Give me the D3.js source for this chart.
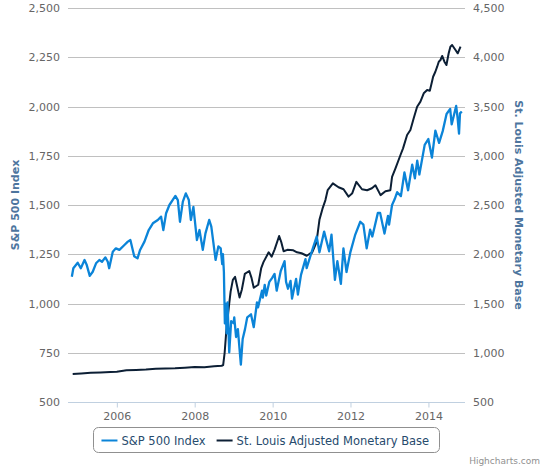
<!DOCTYPE html>
<html>
<head>
<meta charset="utf-8">
<script src="https://cdn.jsdelivr.net/npm/d3@7"></script>
<style>
  body { margin: 0; background: #fff; }
  svg { display: block; font-family: "DejaVu Sans", Verdana, sans-serif; }
</style>
</head>
<body>
<svg id="chart" width="547" height="471"></svg>
<script>
// S&P 500 index (left axis)
const spxDates = [
  "2004-11-05","2004-11-19","2004-12-30","2005-01-28","2005-03-04","2005-03-25","2005-04-22",
  "2005-05-20","2005-06-20","2005-07-21","2005-08-15","2005-09-15","2005-10-08","2005-10-21",
  "2005-11-24","2005-12-23","2006-01-25","2006-03-13","2006-04-14","2006-05-08","2006-06-13",
  "2006-07-14","2006-08-07","2006-09-17","2006-10-27","2006-12-05","2007-01-20","2007-02-20",
  "2007-03-13","2007-04-08","2007-05-09","2007-06-08","2007-07-04","2007-07-27","2007-08-16",
  "2007-09-12","2007-10-10","2007-11-07","2007-11-26","2007-12-20","2008-01-22","2008-02-15",
  "2008-03-17","2008-04-11","2008-05-16","2008-06-05","2008-06-25","2008-07-15","2008-08-10",
  "2008-09-01","2008-09-15","2008-09-22","2008-10-01","2008-10-10","2008-10-14","2008-10-27",
  "2008-11-04","2008-11-20","2008-12-08","2008-12-31","2009-01-06","2009-01-23","2009-02-09",
  "2009-03-09","2009-03-26","2009-04-17","2009-05-08","2009-06-12","2009-07-08","2009-08-07",
  "2009-08-17","2009-09-23","2009-10-01","2009-10-19","2009-11-02","2009-12-01","2009-12-28",
  "2010-01-19","2010-02-08","2010-03-18","2010-04-23","2010-05-07","2010-05-25","2010-06-18",
  "2010-07-02","2010-08-09","2010-08-26","2010-09-24","2010-11-05","2010-11-16","2010-12-31",
  "2011-02-18","2011-03-16","2011-04-29","2011-06-15","2011-07-07","2011-08-08","2011-08-31",
  "2011-10-03","2011-10-27","2011-11-25","2011-12-30","2012-02-15","2012-04-02","2012-05-01",
  "2012-06-01","2012-07-03","2012-07-24","2012-09-14","2012-10-05","2012-11-15","2012-12-18",
  "2012-12-28","2013-01-25","2013-02-19","2013-03-14","2013-04-18","2013-05-21","2013-06-24",
  "2013-08-02","2013-08-27","2013-09-18","2013-10-08","2013-11-27","2013-12-31","2014-02-03",
  "2014-03-07","2014-04-11","2014-05-15","2014-06-20","2014-07-24","2014-08-07","2014-09-18",
  "2014-10-01","2014-10-15","2014-10-24","2014-11-10"
];
const spxValues = [
  1136,1179,1207,1179,1221,1195,1140,
  1161,1204,1221,1212,1234,1212,1179,
  1263,1280,1272,1297,1314,1322,1240,
  1229,1272,1314,1373,1407,1424,1441,
  1373,1458,1500,1525,1546,1525,1415,
  1517,1559,1525,1424,1490,1322,1373,
  1272,1356,1424,1390,1306,1221,1290,
  1280,1200,1250,1160,899,1000,848,
  1005,752,910,900,930,830,870,
  690,820,870,930,945,880,1005,
  980,1065,1030,1095,1040,1110,1130,
  1150,1065,1165,1215,1110,1075,1115,
  1025,1125,1045,1145,1225,1180,1258,
  1340,1260,1365,1265,1350,1120,1215,
  1100,1280,1160,1258,1350,1415,1400,
  1280,1375,1340,1460,1460,1355,1445,
  1400,1500,1530,1565,1545,1665,1575,
  1705,1635,1725,1655,1805,1835,1741,
  1878,1815,1875,1962,1988,1909,2003,
  1945,1862,1965,1975
];

// St. Louis Adjusted Monetary Base (right axis)
const ambDates = [
  "2004-11-13","2005-02-01","2005-05-01","2005-08-01","2005-11-01","2006-01-01","2006-04-01",
  "2006-07-01","2006-10-01","2007-01-01","2007-04-01","2007-07-01","2007-10-01","2008-01-01",
  "2008-04-01","2008-07-01","2008-09-10","2008-09-24","2008-10-08","2008-10-22","2008-11-05",
  "2008-11-19","2008-12-03","2008-12-24","2009-01-14","2009-01-28","2009-02-25","2009-03-18",
  "2009-04-15","2009-05-27","2009-06-17","2009-07-08","2009-08-19","2009-09-16","2009-10-07",
  "2009-11-25","2009-12-23","2010-01-20","2010-03-03","2010-03-24","2010-04-14","2010-05-19",
  "2010-07-14","2010-08-18","2010-09-29","2010-11-17","2010-12-15","2011-01-05","2011-02-16",
  "2011-03-16","2011-04-13","2011-05-11","2011-06-01","2011-07-20","2011-09-11","2011-10-28",
  "2011-12-14","2012-01-18","2012-02-25","2012-04-18","2012-06-05","2012-07-20","2012-08-22",
  "2012-10-09","2012-11-24","2013-01-09","2013-01-25","2013-02-25","2013-04-13","2013-05-08",
  "2013-06-15","2013-07-16","2013-08-16","2013-09-17","2013-10-18","2013-11-18","2013-12-20",
  "2014-01-14","2014-01-27","2014-02-14","2014-03-07","2014-03-24","2014-04-08","2014-04-24",
  "2014-05-10","2014-05-31","2014-06-19","2014-07-10","2014-07-26","2014-08-11","2014-09-12",
  "2014-10-03","2014-10-29"
];
const ambValues = [
  784,790,797,800,805,808,822,
  826,830,838,840,842,848,855,
  854,862,868,875,1000,1200,1350,
  1490,1620,1740,1770,1700,1560,1640,
  1800,1830,1760,1660,1690,1860,1920,
  2020,1975,2050,2185,2120,2030,2045,
  2040,2020,2010,1985,2005,2015,2120,
  2350,2460,2550,2650,2720,2680,2660,
  2585,2620,2735,2660,2650,2670,2700,
  2600,2640,2650,2785,2870,3005,3075,
  3211,3261,3380,3498,3549,3634,3667,
  3660,3718,3802,3853,3904,3955,3972,
  4013,3955,3921,4040,4107,4124,4073,
  4040,4107
];

const leftTicks = [500, 750, 1000, 1250, 1500, 1750, 2000, 2250, 2500];
const rightTicks = [500, 1000, 1500, 2000, 2500, 3000, 3500, 4000, 4500];
const yearTicks = [2006, 2008, 2010, 2012, 2014];
const seriesNames = ["S&P 500 Index", "St. Louis Adjusted Monetary Base"];
const seriesColors = ["#0b84d8", "#0c1f35"];

const parse = d3.timeParse("%Y-%m-%d");
const spx = spxDates.map((d, i) => ({ date: parse(d), value: spxValues[i] }));
const amb = ambDates.map((d, i) => ({ date: parse(d), value: ambValues[i] }));

const svg = d3.select("#chart");
const plot = { left: 68, right: 465, top: 8, bottom: 402 };

const x = d3.scaleTime()
  .domain([parse("2004-09-30"), parse("2014-12-10")])
  .range([plot.left, plot.right]);
const yLeft = d3.scaleLinear().domain([500, 2500]).range([plot.bottom, plot.top]);
const yRight = d3.scaleLinear().domain([500, 4500]).range([plot.bottom, plot.top]);

const fmt = d3.format(",");

// grid lines (left axis)
svg.append("g")
  .attr("class", "grid")
  .selectAll("line")
  .data(leftTicks.slice(1))
  .enter()
  .append("line")
    .attr("x1", plot.left)
    .attr("x2", plot.right)
    .attr("y1", d => Math.round(yLeft(d)) + 0.5)
    .attr("y2", d => Math.round(yLeft(d)) + 0.5)
    .attr("stroke", "#c0c0c0")
    .attr("stroke-width", 1);

// left axis labels
let gLeft = svg.append("g")
  .attr("transform", `translate(${plot.left - 8},0)`)
  .call(d3.axisLeft(yLeft).tickValues(leftTicks).tickFormat(fmt).tickSize(0).tickPadding(0));
gLeft.select(".domain").remove();
gLeft.selectAll("text")
  .attr("fill", "#666")
  .style("font-size", "11px")
  .style("font-family", "DejaVu Sans, sans-serif");

// right axis labels
let gRight = svg.append("g")
  .attr("transform", `translate(${plot.right + 8},0)`)
  .call(d3.axisRight(yRight).tickValues(rightTicks).tickFormat(fmt).tickSize(0).tickPadding(0));
gRight.select(".domain").remove();
gRight.selectAll("text")
  .attr("fill", "#666")
  .style("font-size", "11px")
  .style("font-family", "DejaVu Sans, sans-serif");

// x axis
let gX = svg.append("g")
  .attr("transform", `translate(0,${plot.bottom + 0.5})`)
  .call(d3.axisBottom(x)
    .tickValues(yearTicks.map(y => new Date(y, 0, 1)))
    .tickFormat(d3.timeFormat("%Y"))
    .tickSize(5)
    .tickPadding(5));
gX.select(".domain")
  .attr("d", `M${plot.left},0H${plot.right}`)
  .attr("stroke", "#c0d0e0");
gX.selectAll(".tick line").attr("stroke", "#c0d0e0");
gX.selectAll("text")
  .attr("fill", "#666")
  .style("font-size", "11px")
  .style("font-family", "DejaVu Sans, sans-serif");

// axis titles
svg.append("text")
  .attr("transform", `translate(18.5,${(plot.top + plot.bottom) / 2}) rotate(-90)`)
  .attr("text-anchor", "middle")
  .attr("fill", "#4d759e")
  .style("font-size", "11px")
  .style("font-weight", "bold")
  .text(seriesNames[0]);

svg.append("text")
  .attr("transform", `translate(515,${(plot.top + plot.bottom) / 2}) rotate(90)`)
  .attr("text-anchor", "middle")
  .attr("fill", "#4d759e")
  .style("font-size", "11px")
  .style("font-weight", "bold")
  .text(seriesNames[1]);

// lines
let lineLeft = d3.line().x(d => x(d.date)).y(d => yLeft(d.value));
let lineRight = d3.line().x(d => x(d.date)).y(d => yRight(d.value));

svg.append("path")
  .datum(amb)
  .attr("fill", "none")
  .attr("stroke", seriesColors[1])
  .attr("stroke-width", 2)
  .attr("stroke-linejoin", "round")
  .attr("d", lineRight);

svg.append("path")
  .datum(spx)
  .attr("fill", "none")
  .attr("stroke", seriesColors[0])
  .attr("stroke-width", 2.3)
  .attr("stroke-linejoin", "round")
  .attr("d", lineLeft);

// legend
let legend = svg.append("g").attr("class", "legend");
let box = legend.append("rect")
  .attr("fill", "none")
  .attr("stroke", "#909090")
  .attr("rx", 5)
  .attr("ry", 5);
let items = legend.selectAll("g.item")
  .data(seriesNames)
  .enter()
  .append("g")
    .attr("class", "item");
items.append("line")
  .attr("x1", 0).attr("x2", 16)
  .attr("y1", 0).attr("y2", 0)
  .attr("stroke", (d, i) => seriesColors[i])
  .attr("stroke-width", 2);
items.append("text")
  .attr("x", 20)
  .attr("y", 4.5)
  .attr("fill", "#274b6d")
  .style("font-size", "11.5px")
  .text(d => d);

let widths = [];
items.selectAll("text").each(function () { widths.push(this.getComputedTextLength()); });
let itemW = widths.map(w => 20 + w);
let total = 8 + itemW[0] + 11 + itemW[1] + 10;
let boxLeft = 266.3 - total / 2;
let cx = boxLeft + 8;
items.attr("transform", (d, i) => {
  let t = `translate(${cx},440.5)`;
  cx += itemW[i] + 11;
  return t;
});
box.attr("x", Math.round(boxLeft) + 0.5)
  .attr("y", 427.5)
  .attr("width", Math.round(total))
  .attr("height", 25);

// credits
svg.append("text")
  .attr("x", 540)
  .attr("y", 464)
  .attr("text-anchor", "end")
  .attr("fill", "#909090")
  .style("font-size", "9px")
  .text("Highcharts.com");
</script>
</body>
</html>
